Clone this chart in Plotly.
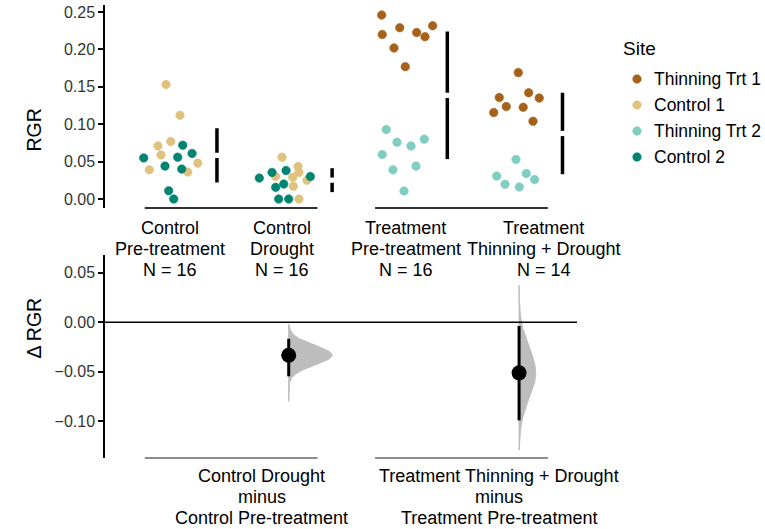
import numpy as np
import plotly.graph_objects as go

# ---------------- data ----------------
group_names = ["Control Pre-treatment", "Control Drought",
               "Treatment Pre-treatment", "Treatment Thinning + Drought"]
group_label_lines = [["Control", "Pre-treatment", "N = 16"],
                     ["Control", "Drought", "N = 16"],
                     ["Treatment", "Pre-treatment", "N = 16"],
                     ["Treatment", "Thinning + Drought", "N = 14"]]
sites = ["Thinning Trt 1", "Control 1", "Thinning Trt 2", "Control 2"]
site_colors = ["#a6611a", "#dfc27d", "#80cdc1", "#018571"]

# Control Pre-treatment (group 0)
cp_control1 = [0.153, 0.112, 0.077, 0.071, 0.059, 0.048, 0.039, 0.036]
cp_control1_jit = [-0.065, 0.056, -0.024, -0.135, -0.109, 0.210, -0.210, 0.123]
cp_control2 = [0.072, 0.061, 0.055, 0.056, 0.044, 0.040, 0.011, 0.000]
cp_control2_jit = [0.080, 0.161, -0.259, 0.036, -0.074, 0.071, -0.042, 0.002]

# Control Drought (group 1)
cd_control1 = [0.056, 0.0436, 0.0356, 0.030, 0.029, 0.025, 0.017, 0.000]
cd_control1_jit = [-0.058, 0.081, 0.089, -0.113, 0.035, 0.159, 0.040, 0.089]
cd_control2 = [0.038, 0.0356, 0.028, 0.030, 0.020, 0.0156, 0.000, 0.000]
cd_control2_jit = [-0.023, -0.145, -0.255, 0.188, -0.043, -0.113, -0.087, 0.000]

# Treatment Pre-treatment (group 2)
tp_thin1 = [0.246, 0.229, 0.2316, 0.220, 0.2227, 0.217, 0.202, 0.177]
tp_thin1_jit = [-0.193, -0.036, 0.250, -0.188, 0.111, 0.183, -0.086, 0.012]
tp_thin2 = [0.093, 0.076, 0.080, 0.071, 0.0596, 0.039, 0.044, 0.0107]
tp_thin2_jit = [-0.153, -0.060, 0.177, 0.062, -0.188, -0.095, 0.105, 0.001]

# Treatment Thinning + Drought (group 3)
td_thin1 = [0.169, 0.142, 0.135, 0.1356, 0.1236, 0.1227, 0.1156, 0.104]
td_thin1_jit = [-0.007, 0.083, 0.175, -0.172, -0.111, 0.036, -0.220, 0.121]
td_thin2 = [0.053, 0.0307, 0.0342, 0.026, 0.0196, 0.016]
td_thin2_jit = [-0.027, -0.194, 0.063, 0.135, -0.122, 0.002]

# effect sizes (test group minus control group), bootstrap 95% CI
delta_pairs = [(0, 1), (2, 3)]
delta_label_lines = [["Control Drought", "minus", "Control Pre-treatment"],
                     ["Treatment Thinning + Drought", "minus", "Treatment Pre-treatment"]]
delta_ci_low = [-0.0545, -0.099]
delta_ci_high = [-0.0166, -0.0037]
violin_low = [-0.080, -0.129]
violin_high = [-0.002, 0.0375]

# ---------------- assemble ----------------
FONT = "Liberation Sans, Arial, sans-serif"
W, H = 765, 529
ML, MR, MT, MB = 105, 188, 5, 71
PH = H - MT - MB
PW = W - ML - MR


def py(px):
    """pixel row -> paper y"""
    return (H - MB - px) / PH


def pxp(px):
    """pixel column -> paper x"""
    return (px - ML) / PW


site_points = {
    "Thinning Trt 1": [(2, tp_thin1, tp_thin1_jit), (3, td_thin1, td_thin1_jit)],
    "Control 1": [(0, cp_control1, cp_control1_jit), (1, cd_control1, cd_control1_jit)],
    "Thinning Trt 2": [(2, tp_thin2, tp_thin2_jit), (3, td_thin2, td_thin2_jit)],
    "Control 2": [(0, cp_control2, cp_control2_jit), (1, cd_control2, cd_control2_jit)],
}
group_values = [cp_control1 + cp_control2, cd_control1 + cd_control2,
                tp_thin1 + tp_thin2, td_thin1 + td_thin2]

fig = go.Figure()

for site, col in zip(sites, site_colors):
    xs, ys = [], []
    for g, vals, jit in site_points[site]:
        xs += [g + j for j in jit]
        ys += list(vals)
    fig.add_trace(go.Scatter(x=xs, y=ys, mode="markers", name=site,
                             marker=dict(color=col, size=8.5,
                                         line=dict(color=col, width=0.6)),
                             showlegend=False, xaxis="x", yaxis="y"))

# mean +- sd gapped lines
MEAN_OFF = 0.377
GAP = 0.0035
for g, vals in enumerate(group_values):
    m = float(np.mean(vals))
    s = float(np.std(vals, ddof=1))
    xg = g + MEAN_OFF
    fig.add_trace(go.Scatter(x=[xg, xg, None, xg, xg],
                             y=[m + s, m + GAP, None, m - GAP, m - s],
                             mode="lines", line=dict(color="black", width=3.5),
                             showlegend=False, hoverinfo="skip",
                             xaxis="x", yaxis="y"))

# delta panel
VSCALE = 0.00937
for k, (c, t) in enumerate(delta_pairs):
    vc, vt = np.array(group_values[c]), np.array(group_values[t])
    d = vt.mean() - vc.mean()
    se = np.sqrt(vc.var(ddof=1) / len(vc) + vt.var(ddof=1) / len(vt))
    yy = np.linspace(violin_low[k], violin_high[k], 200)
    dens = np.exp(-0.5 * ((yy - d) / se) ** 2) / (se * np.sqrt(2 * np.pi))
    xv = t + VSCALE * dens
    fig.add_trace(go.Scatter(x=list(xv) + [t] * len(yy),
                             y=list(yy) + list(yy[::-1]),
                             fill="toself", fillcolor="#bdbdbd",
                             line=dict(color="#bdbdbd", width=1),
                             mode="lines", showlegend=False, hoverinfo="skip",
                             xaxis="x2", yaxis="y2"))
    fig.add_trace(go.Scatter(x=[t, t], y=[delta_ci_low[k], delta_ci_high[k]],
                             mode="lines", line=dict(color="black", width=3),
                             showlegend=False, hoverinfo="skip",
                             xaxis="x2", yaxis="y2"))
    fig.add_trace(go.Scatter(x=[t], y=[d], mode="markers",
                             marker=dict(color="black", size=15),
                             showlegend=False, xaxis="x2", yaxis="y2"))

XR = [-0.595, 3.503]
shapes = []
for (c, t) in delta_pairs:
    shapes.append(dict(type="line", xref="x", yref="y domain", x0=c - 0.25, x1=t + 0.25,
                       y0=0, y1=0, line=dict(color="#333333", width=2)))
    shapes.append(dict(type="line", xref="x2", yref="y2 domain", x0=c - 0.25, x1=t + 0.25,
                       y0=0, y1=0, line=dict(color="#8c8c8c", width=2)))
shapes.append(dict(type="line", xref="x2 domain", yref="y2", x0=0, x1=1, y0=0, y1=0,
                   line=dict(color="black", width=1.5)))

annotations = []
LABEL_FONT = dict(family=FONT, size=18, color="black")
label_shift = [-0.03, -0.06, 0.018, 0.216]
top_line_rows = [228, 249, 270]
for g, lines in enumerate(group_label_lines):
    for txt, row in zip(lines, top_line_rows):
        annotations.append(dict(x=g + label_shift[g], y=py(row), xref="x", yref="paper",
                                text=txt, showarrow=False, yanchor="middle",
                                font=LABEL_FONT))
delta_label_shift = [-0.235, -0.17]
bottom_line_rows = [476, 497, 518]
for k, (c, t) in enumerate(delta_pairs):
    for txt, row in zip(delta_label_lines[k], bottom_line_rows):
        annotations.append(dict(x=t + delta_label_shift[k], y=py(row), xref="x2",
                                yref="paper", text=txt, showarrow=False,
                                yanchor="middle", font=LABEL_FONT))
annotations.append(dict(x=pxp(20), y=py(107), xref="paper", yref="paper",
                        text="RGR", textangle=-90, showarrow=False,
                        font=dict(family=FONT, size=19.5, color="black")))
annotations.append(dict(x=pxp(20), y=py(361), xref="paper", yref="paper",
                        text="Δ RGR", textangle=-90, showarrow=False,
                        font=dict(family=FONT, size=19.5, color="black")))

# legend (site colour key), drawn in paper space to the right of the plots
LEG_TITLE_X, LEG_TITLE_ROW = 621, 48
LEG_DOT_X, LEG_TEXT_X = 637, 652
LEG_ROW0, LEG_STEP = 79, 26
annotations.append(dict(x=pxp(LEG_TITLE_X), y=py(LEG_TITLE_ROW), xref="paper", yref="paper",
                        text="Site", showarrow=False, xanchor="left", yanchor="middle",
                        font=dict(family=FONT, size=19, color="black")))
for i, (site, col) in enumerate(zip(sites, site_colors)):
    row = LEG_ROW0 + i * LEG_STEP
    shapes.append(dict(type="circle", xref="paper", yref="paper",
                       xsizemode="pixel", ysizemode="pixel",
                       xanchor=pxp(LEG_DOT_X), yanchor=py(row),
                       x0=-4.25, x1=4.25, y0=-4.25, y1=4.25,
                       fillcolor=col, line=dict(color=col, width=0.6)))
    annotations.append(dict(x=pxp(LEG_TEXT_X), y=py(row), xref="paper", yref="paper",
                            text=site, showarrow=False, xanchor="left", yanchor="middle",
                            font=dict(family=FONT, size=17.5, color="black")))

yax_common = dict(showline=True, linecolor="black", linewidth=1.5, ticks="outside",
                  ticklen=5, tickwidth=1.5, tickcolor="black", showgrid=False,
                  zeroline=False, tickformat=".2f",
                  tickfont=dict(family=FONT, size=16, color="#333333"))

fig.update_layout(
    width=W, height=H,
    margin=dict(l=ML, r=MR, t=MT, b=MB, autoexpand=False),
    paper_bgcolor="white", plot_bgcolor="white",
    font=dict(family=FONT),
    xaxis=dict(range=XR, visible=False, domain=[0, 1]),
    xaxis2=dict(range=XR, visible=False, domain=[0, 1], anchor="y2"),
    yaxis=dict(domain=[py(208), 1], range=[-0.012, 0.2594],
               tickvals=[0, 0.05, 0.10, 0.15, 0.20, 0.25], **yax_common),
    yaxis2=dict(domain=[0, py(255)], range=[-0.137, 0.068], anchor="x2",
                tickvals=[-0.10, -0.05, 0.0, 0.05], **yax_common),
    shapes=shapes, annotations=annotations,
    showlegend=False,
)

fig.write_html("out.html", config={"displayModeBar": False},
               post_script="document.body.style.margin='0';document.body.style.overflow='hidden';")
